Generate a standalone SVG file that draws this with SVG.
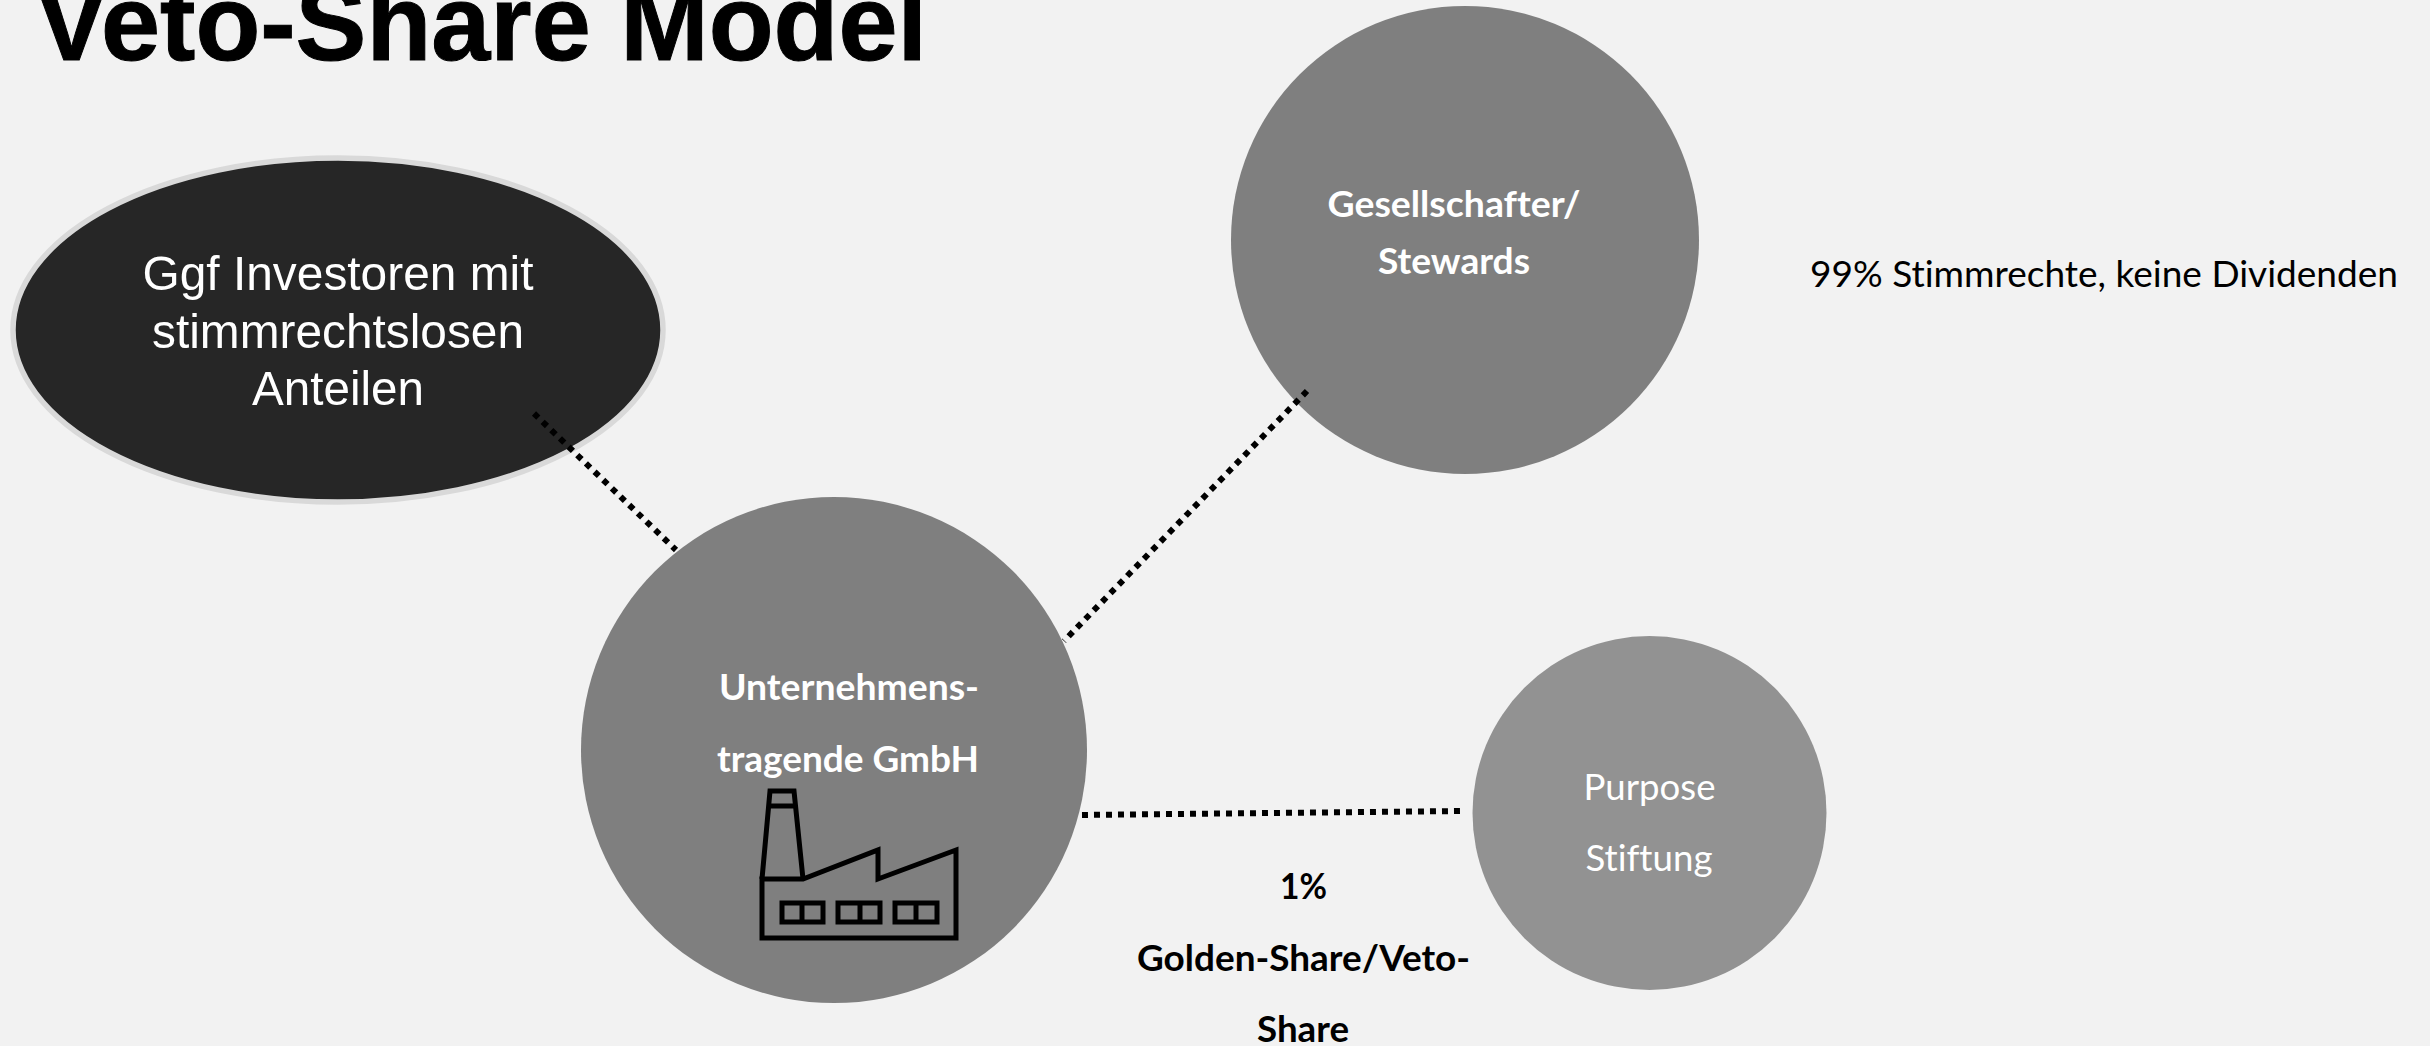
<svg xmlns="http://www.w3.org/2000/svg" width="2430" height="1046" viewBox="0 0 2430 1046">
<style>
.sans{font-family:"Liberation Sans",Arial,sans-serif}
.cal{font-family:Lato,"Open Sans",sans-serif;text-anchor:middle;font-size:37px;font-variant-ligatures:none}
.b{font-weight:700}
.w{fill:#fff}
.k{fill:#000}
.dot{fill:none;stroke:#000;stroke-width:6;stroke-dasharray:6 6}
.ic{fill:none;stroke:#000;stroke-width:5}
</style>
<rect width="2430" height="1046" fill="#f2f2f2"/>
<g id="title"><text class="sans b k" x="36" y="60" font-size="108" stroke="#000" stroke-width="1" textLength="891" lengthAdjust="spacingAndGlyphs">Veto-Share Model</text></g>
<g id="investoren">
<ellipse cx="338" cy="330" rx="325" ry="172" fill="#262626" stroke="#d9d9d9" stroke-width="5.500"/>
<g class="sans w" font-size="49" text-anchor="middle">
<text x="338" y="290" textLength="391" lengthAdjust="spacingAndGlyphs">Ggf Investoren mit</text>
<text x="338" y="348" textLength="372" lengthAdjust="spacingAndGlyphs">stimmrechtslosen</text>
<text x="338" y="405" textLength="172" lengthAdjust="spacingAndGlyphs">Anteilen</text>
</g>
</g>
<g id="gesellschafter">
<circle cx="1465" cy="240" r="234" fill="#7f7f7f"/>
<text class="cal b w" x="1454" y="217" textLength="253" lengthAdjust="spacingAndGlyphs">Gesellschafter/</text>
<text class="cal b w" x="1454" y="274" textLength="152" lengthAdjust="spacingAndGlyphs">Stewards</text>
</g>
<g id="gmbh">
<circle cx="834" cy="750" r="253" fill="#7f7f7f"/>
<text class="cal b w" x="849" y="700" textLength="260" lengthAdjust="spacingAndGlyphs">Unternehmens-</text>
<text class="cal b w" x="848" y="772" textLength="262" lengthAdjust="spacingAndGlyphs">tragende GmbH</text>
<g id="factory" class="ic">
<path d="M762 879H803L878 850V879L956 850V938H762Z"/>
<path d="M762 879L770 791H794L803 879M768 806H796"/>
<path d="M782 903H823V922H782ZM802 903V922M838 903H880V922H838ZM860 903V922M895 903H937V922H895ZM916 903V922"/>
</g>
</g>
<g id="purpose">
<circle cx="1649.500" cy="813" r="177" fill="#929292"/>
<text class="cal w" x="1649.500" y="799.500" textLength="132" lengthAdjust="spacingAndGlyphs">Purpose</text>
<text class="cal w" x="1649" y="871" textLength="127" lengthAdjust="spacingAndGlyphs">Stiftung</text>
</g>
<g id="connectors">
<path class="dot" d="M534 413.500L676 550"/>
<path class="dot" d="M1307 391L1064 641"/>
<path class="dot" d="M1082 815L1460 811"/>
</g>
<g id="label-1">
<text class="cal b k" x="1303.500" y="899" textLength="47" lengthAdjust="spacingAndGlyphs">1%</text>
<text class="cal b k" x="1303.500" y="971" textLength="333" lengthAdjust="spacingAndGlyphs">Golden-Share/Veto-</text>
<text class="cal b k" x="1303" y="1042" textLength="92" lengthAdjust="spacingAndGlyphs">Share</text>
</g>
<g id="label-2"><text class="cal k" x="2104" y="287" textLength="588" lengthAdjust="spacingAndGlyphs">99% Stimmrechte, keine Dividenden</text></g>
</svg>
